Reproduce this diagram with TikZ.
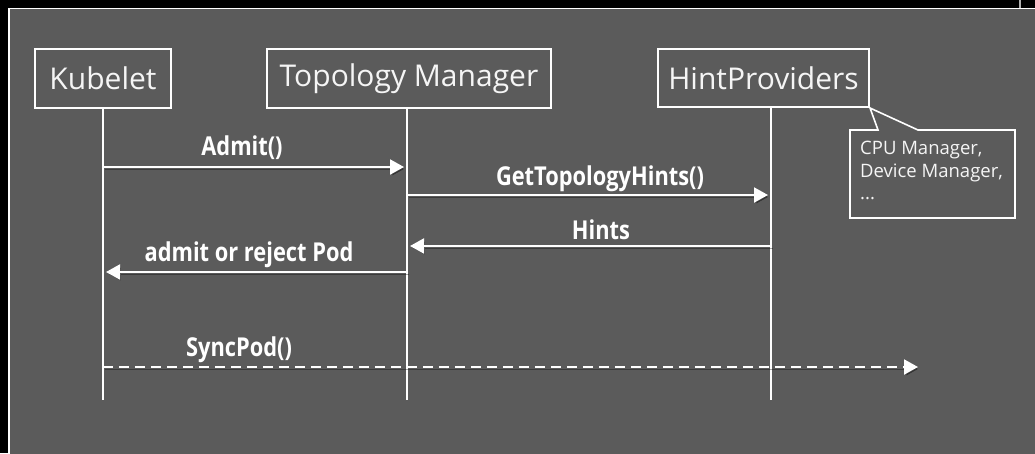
\documentclass[tikz,border=0pt]{standalone}
\usepackage{fontspec}
\setmainfont{Open Sans}
\newfontfamily\lblfont{Open Sans}[FakeStretch=0.84]
\usetikzlibrary{arrows.meta}
\definecolor{panel}{RGB}{91,91,91}
\definecolor{ink}{RGB}{245,245,245}
\begin{document}
\begin{tikzpicture}[x=1pt,y=-1pt,
  actor/.style={draw=white,line width=2pt,text=ink,
    font=\fontsize{30}{36}\selectfont,inner sep=0pt},
  life/.style={draw=white,line width=1.5pt},
  shade/.style={preaction={draw=black,opacity=.35,
    transform canvas={shift={(1.5pt,-2pt)}}}},
  msg/.style={draw=white,line width=2pt,shorten >=3pt,
    -{Triangle[length=14pt,width=15pt]},shade},
  lbl/.style={text=white,font=\lblfont\bfseries\fontsize{26}{28}\selectfont,
    anchor=base,inner sep=0pt},
]
\useasboundingbox (0,0) rectangle (1035,453);
% frame and panel
\fill[black] (0,0) rectangle (1035,453);
\fill[panel] (9,8.5) rectangle (1040,460);
\draw[white,line width=1.6pt] (9,460) -- (9,8.5) -- (1040,8.5);
\draw[gray!60!white,line width=2pt] (1020,0) -- (1020,7.5);

% participants
\node[actor,minimum width=136pt,minimum height=59pt] (kub) at (103,78.5) {Kubelet};
\node[actor,minimum width=284pt,minimum height=59pt] (tm) at (409,78.5) {Topology Manager};
\node[actor,minimum width=211pt,minimum height=58pt] (hp) at (763.5,78) {HintProviders};

% lifeline ends
\coordinate (kubEnd) at (103,400);
\coordinate (tmEnd) at (407,400);
\coordinate (hpEnd) at (771,400);
\draw[life] (kub.south) -- (kubEnd);
\draw[life] (tmEnd |- tm.south) -- (tmEnd);
\draw[life] (hpEnd |- hp.south) -- (hpEnd);

% callout listing the hint providers
\draw[white,line width=1.6pt,fill=panel,line join=miter]
  (850,130) -- (878,130) -- (hp.south east) -- (918,130) -- (1015,130)
  -- (1015,218) -- (850,218) -- cycle;
\node[anchor=north west,align=left,inner sep=0pt,text=ink,
  font=\fontsize{18.5}{22.5}\selectfont] (note) at (860,141)
  {CPU Manager,\\Device Manager,\\...};

% message anchors on the lifelines
\coordinate (m1a) at (103,167);  \coordinate (m1b) at (407,167);
\coordinate (m2a) at (407,195);  \coordinate (m2b) at (771,195);
\coordinate (m3a) at (771,246);  \coordinate (m3b) at (407,246);
\coordinate (m4a) at (407,272);  \coordinate (m4b) at (103,272);
\coordinate (m5a) at (103,367);  \coordinate (m5b) at (921,367);

\draw[msg] (m1a) -- (m1b);
\draw[msg] (m2a) -- (m2b);
\draw[msg] (m3a) -- (m3b);
\draw[msg] (m4a) -- (m4b);
\draw[msg,dash pattern=on 10pt off 6pt] (m5a) -- (m5b);

% message labels
\node[lbl] (l1) at (242,155) {Admit()};
\node[lbl] (l2) at (600,185) {GetTopologyHints()};
\node[lbl] (l3) at (601,239) {Hints};
\node[lbl] (l4) at (249,261) {admit or reject Pod};
\node[lbl] (l5) at (239,356) {SyncPod()};
\end{tikzpicture}
\end{document}
